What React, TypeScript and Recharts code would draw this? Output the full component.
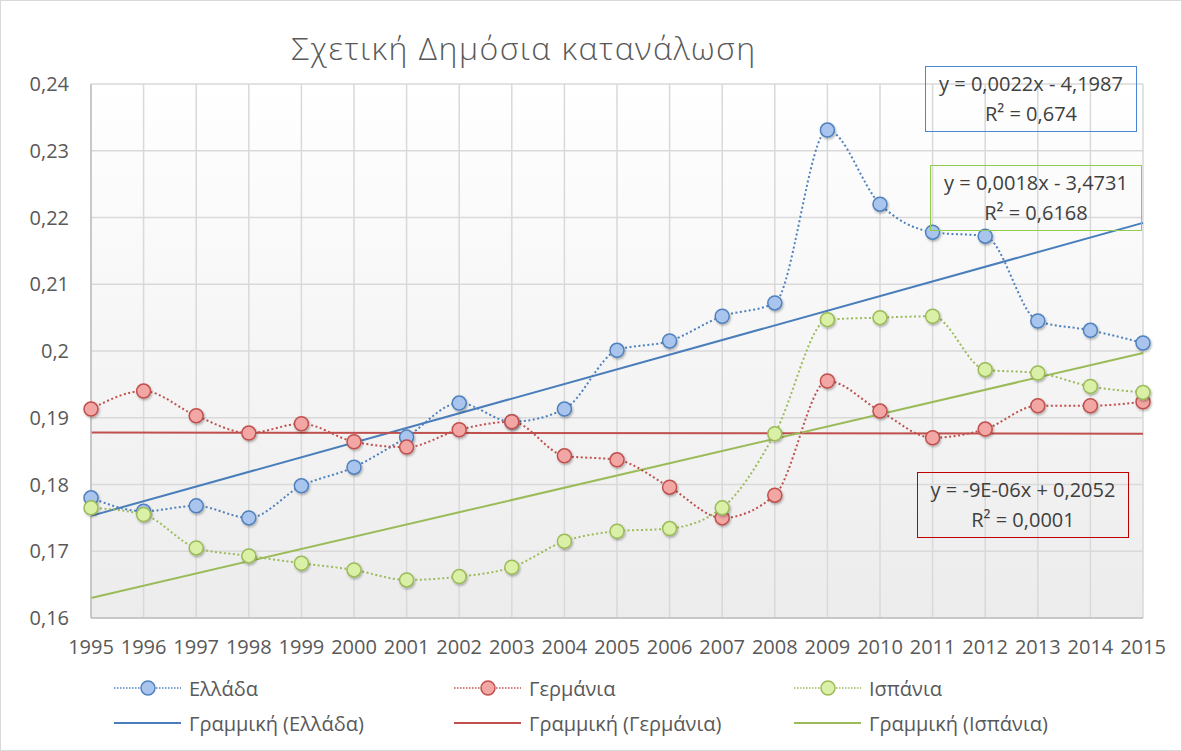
import React from 'react';
import { LineChart, Line, XAxis, YAxis, CartesianGrid } from 'recharts';

const years = ['1995', '1996', '1997', '1998', '1999', '2000', '2001', '2002', '2003', '2004', '2005',
    '2006', '2007', '2008', '2009', '2010', '2011', '2012', '2013', '2014', '2015'];

const greece = [0.178, 0.176, 0.1768, 0.175, 0.1798, 0.1826, 0.1871, 0.1922, 0.1894, 0.1913, 0.2001,
    0.2015, 0.2052, 0.2072, 0.2331, 0.222, 0.2178, 0.2172, 0.2045, 0.2031, 0.2012];
const germany = [0.1913, 0.194, 0.1903, 0.1877, 0.1891, 0.1864, 0.1856, 0.1882, 0.1894, 0.1843, 0.1837,
    0.1796, 0.175, 0.1784, 0.1955, 0.191, 0.187, 0.1883, 0.1918, 0.1918, 0.1924];
const spain = [0.1765, 0.1755, 0.1705, 0.1693, 0.1682, 0.1672, 0.1657, 0.1662, 0.1676, 0.1715, 0.173,
    0.1734, 0.1765, 0.1876, 0.2047, 0.205, 0.2052, 0.1972, 0.1967, 0.1947, 0.1938];

// trend line endpoints (first year, last year)
const greeceTrend = [0.1753, 0.2192];
const germanyTrend = [0.1878, 0.1876];
const spainTrend = [0.163, 0.1997];

const yTicks = [0.16, 0.17, 0.18, 0.19, 0.2, 0.21, 0.22, 0.23, 0.24];

const last = years.length - 1;
const data = years.map((year, i) => ({
    year,
    greece: greece[i],
    germany: germany[i],
    spain: spain[i],
    greeceTrend: i === 0 ? greeceTrend[0] : i === last ? greeceTrend[1] : null,
    germanyTrend: i === 0 ? germanyTrend[0] : i === last ? germanyTrend[1] : null,
    spainTrend: i === 0 ? spainTrend[0] : i === last ? spainTrend[1] : null,
}));

const FONT = '"Open Sans", "Noto Sans", sans-serif';
const TEXT = '#595959';

const series = [
    { key: 'greece', name: 'Ελλάδα', stroke: '#4f81bd', fill: '#a9c5ee', trend: '#4a7ebb' },
    { key: 'germany', name: 'Γερμάνια', stroke: '#c0504d', fill: '#f3a7a5', trend: '#c0504d' },
    { key: 'spain', name: 'Ισπάνια', stroke: '#9bbb59', fill: '#d9f0a6', trend: '#9bbb59' },
];

const fmt = (v: number) => String(Number(v.toFixed(2))).replace('.', ',');

const EqBox = ({ left, top, color, line1, line2 }: any) => (
    <div style={{
        position: 'absolute', left, top, width: 212, height: 66, boxSizing: 'border-box',
        border: `1.5px solid ${color}`, fontFamily: FONT, fontSize: 20, color: '#404040',
        textAlign: 'center', lineHeight: '30px', paddingTop: 2, whiteSpace: 'nowrap',
    }}>
        <div>{line1}</div>
        <div>{line2}</div>
    </div>
);

const LegendRow = ({ top, trend }: { top: number; trend: boolean }) => (
    <>
        {series.map((s, i) => (
            <div key={s.key} style={{
                position: 'absolute', left: 112 + i * 340, top, height: 30, display: 'flex', alignItems: 'center',
                fontFamily: FONT, fontSize: 20, color: TEXT, whiteSpace: 'nowrap',
            }}>
                <svg width={69} height={18} style={{ marginRight: 7 }}>
                    {trend ? (
                        <line x1={1} y1={9} x2={68} y2={9} stroke={s.trend} strokeWidth={2} />
                    ) : (
                        <>
                            <line x1={1} y1={9} x2={68} y2={9} stroke={s.stroke} strokeWidth={1.5} strokeDasharray="1.5 1.5" />
                            <circle cx={35} cy={9} r={7} fill={s.fill} stroke={s.stroke} strokeWidth={1.5} />
                        </>
                    )}
                </svg>
                {trend ? `Γραμμική (${s.name})` : s.name}
            </div>
        ))}
    </>
);

export default function App() {
    return (
        <div style={{
            position: 'absolute', left: 0, top: 0, width: 1182, height: 751, background: '#fff',
            boxSizing: 'border-box', border: '1px solid #d9d9d9', overflow: 'hidden',
        }}>
            <div style={{
                position: 'absolute', left: 0, width: 1046, top: 25, textAlign: 'center',
                fontFamily: FONT, fontWeight: 300, fontSize: 32, letterSpacing: 1.5, color: TEXT,
            }}>
                Σχετική Δημόσια κατανάλωση
            </div>
            <div style={{ position: 'absolute', left: -1, top: -1 }}>
                <LineChart width={1182} height={751} data={data}
                    margin={{ top: 84, right: 39, left: 0, bottom: 83 }}>
                    <defs>
                        <linearGradient id="plotBg" x1="0" y1="0" x2="0" y2="1">
                            <stop offset="0%" stopColor="#ffffff" />
                            <stop offset="100%" stopColor="#ececec" />
                        </linearGradient>
                        <filter id="dotShadow" x="-50%" y="-50%" width="200%" height="200%">
                            <feDropShadow dx="1" dy="1.5" stdDeviation="1.2" floodColor="#000" floodOpacity="0.3" />
                        </filter>
                    </defs>
                    <CartesianGrid stroke="#d9d9d9" strokeWidth={1.5} fill="url(#plotBg)" />
                    <XAxis dataKey="year" tickLine={false} axisLine={{ stroke: '#bfbfbf', strokeWidth: 1.5 }}
                        height={50} tickMargin={16} interval={0}
                        tick={{ fill: TEXT, fontSize: 20, fontFamily: FONT }} />
                    <YAxis domain={[0.16, 0.24]} ticks={yTicks} tickFormatter={fmt} width={91}
                        tickLine={false} axisLine={{ stroke: '#bfbfbf', strokeWidth: 1.5 }} tickMargin={16}
                        tick={{ fill: TEXT, fontSize: 20, fontFamily: FONT }} />
                    {series.map((s) => (
                        <Line key={`${s.key}Trend`} dataKey={`${s.key}Trend`} type="linear" stroke={s.trend}
                            strokeWidth={2} dot={false} activeDot={false} connectNulls isAnimationActive={false} />
                    ))}
                    {series.map((s) => (
                        <Line key={s.key} dataKey={s.key} name={s.name} type="monotone" stroke={s.stroke}
                            strokeWidth={2} strokeDasharray="2 2.5"
                            dot={{ r: 7, fill: s.fill, stroke: s.stroke, strokeWidth: 1.5, filter: 'url(#dotShadow)', strokeDasharray: '' }}
                            activeDot={false} isAnimationActive={false} />
                    ))}
                </LineChart>
            </div>
            <EqBox left={924} top={65} color="#4a86d4" line1="y = 0,0022x - 4,1987" line2="R² = 0,674" />
            <EqBox left={929} top={164} color="#8fcd4f" line1="y = 0,0018x - 3,4731" line2="R² = 0,6168" />
            <EqBox left={916} top={471} color="#c00000" line1="y = -9E-06x + 0,2052" line2="R² = 0,0001" />
            <LegendRow top={672} trend={false} />
            <LegendRow top={707} trend={true} />
        </div>
    );
}
